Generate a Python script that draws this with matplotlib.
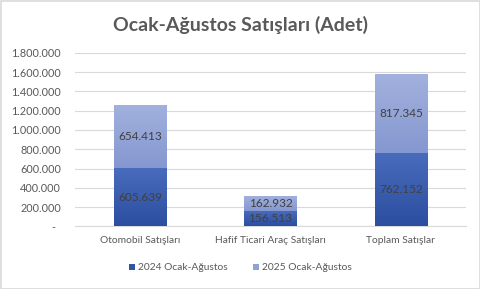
import numpy as np
import matplotlib
matplotlib.use("Agg")
import matplotlib.pyplot as plt
from matplotlib.patches import Rectangle
from matplotlib.colors import LinearSegmentedColormap
from matplotlib.ticker import FuncFormatter, MultipleLocator

plt.rcParams["font.family"] = ["Lato", "DejaVu Sans"]

categories = ["Otomobil Satışları", "Hafif Ticari Araç Satışları", "Toplam Satışlar"]
sales_2024 = [605639, 156513, 762152]
sales_2025 = [654413, 162932, 817345]
series_names = ["2024 Ocak-Ağustos", "2025 Ocak-Ağustos"]
title = "Ocak-Ağustos Satışları (Adet)"

# gradient colours (bottom -> top) per series
grad_2024 = ("#2b4ea0", "#4a6cbc")
grad_2025 = ("#8597d0", "#a2b1dd")

fig = plt.figure(figsize=(4.81, 2.89), dpi=100)
ax = fig.add_axes((75 / 481, 62.6 / 289, 391 / 481, 173.7 / 289))

x = np.arange(len(categories))
b1 = ax.bar(x, sales_2024, width=0.4, color="#2f55a8", label=series_names[0], zorder=2)
b2 = ax.bar(x, sales_2025, width=0.4, bottom=sales_2024, color="#8fa2d6",
            label=series_names[1], zorder=2)

grad = np.linspace(0, 1, 256).reshape(-1, 1)
for bars, cols in [(b1, grad_2024), (b2, grad_2025)]:
    cmap = LinearSegmentedColormap.from_list("g", list(cols))
    for p in bars:
        x0, y0 = p.get_x(), p.get_y()
        im = ax.imshow(grad, cmap=cmap, origin="lower", aspect="auto",
                       extent=(x0, x0 + p.get_width(), y0, y0 + p.get_height()),
                       zorder=3)
        im.set_clip_path(p)

for bars, vals in [(b1, sales_2024), (b2, sales_2025)]:
    for p, v in zip(bars, vals):
        ax.text(p.get_x() + p.get_width() / 2, p.get_y() + p.get_height() / 2,
                f"{v:,}".replace(",", "."), ha="center", va="center",
                fontsize=8.5, color="#404040", zorder=4)

ax.set_xlim(-0.5, len(categories) - 0.5)
ax.set_ylim(0, 1800000)
ax.yaxis.set_major_locator(MultipleLocator(200000))
ax.yaxis.set_major_formatter(FuncFormatter(
    lambda v, _: "-  " if v == 0 else f"{int(v):,}".replace(",", ".")))
ax.set_xticks(x)
ax.set_xticklabels(categories)
ax.tick_params(axis="both", length=0, colors="#595959")
ax.tick_params(axis="y", pad=10, labelsize=7.8)
ax.tick_params(axis="x", pad=7, labelsize=7.4)
ax.grid(axis="y", color="#d9d9d9", linewidth=0.8, zorder=0)
ax.set_axisbelow(True)
for s in ["top", "right", "left"]:
    ax.spines[s].set_visible(False)
ax.spines["bottom"].set_color("#d9d9d9")
ax.spines["bottom"].set_linewidth(0.8)

fig.text(0.5, 1 - 25 / 289, title, ha="center", va="center", fontsize=14,
         fontweight="bold", color="#595959")

fig.legend(handles=[b1, b2], loc="center", bbox_to_anchor=(0.5, 1 - 268 / 289),
           ncol=2, frameon=False, fontsize=7.4, labelcolor="#595959",
           handlelength=0.6, handleheight=0.6, handletextpad=0.3, columnspacing=2.4)

fig.patches.append(Rectangle((0.5 / 481, 0.5 / 289), 1 - 1.5 / 481, 1 - 1.5 / 289,
                             transform=fig.transFigure, fill=False,
                             edgecolor="#d9d9d9", linewidth=1.2))

fig.savefig("out.png", dpi=100)
